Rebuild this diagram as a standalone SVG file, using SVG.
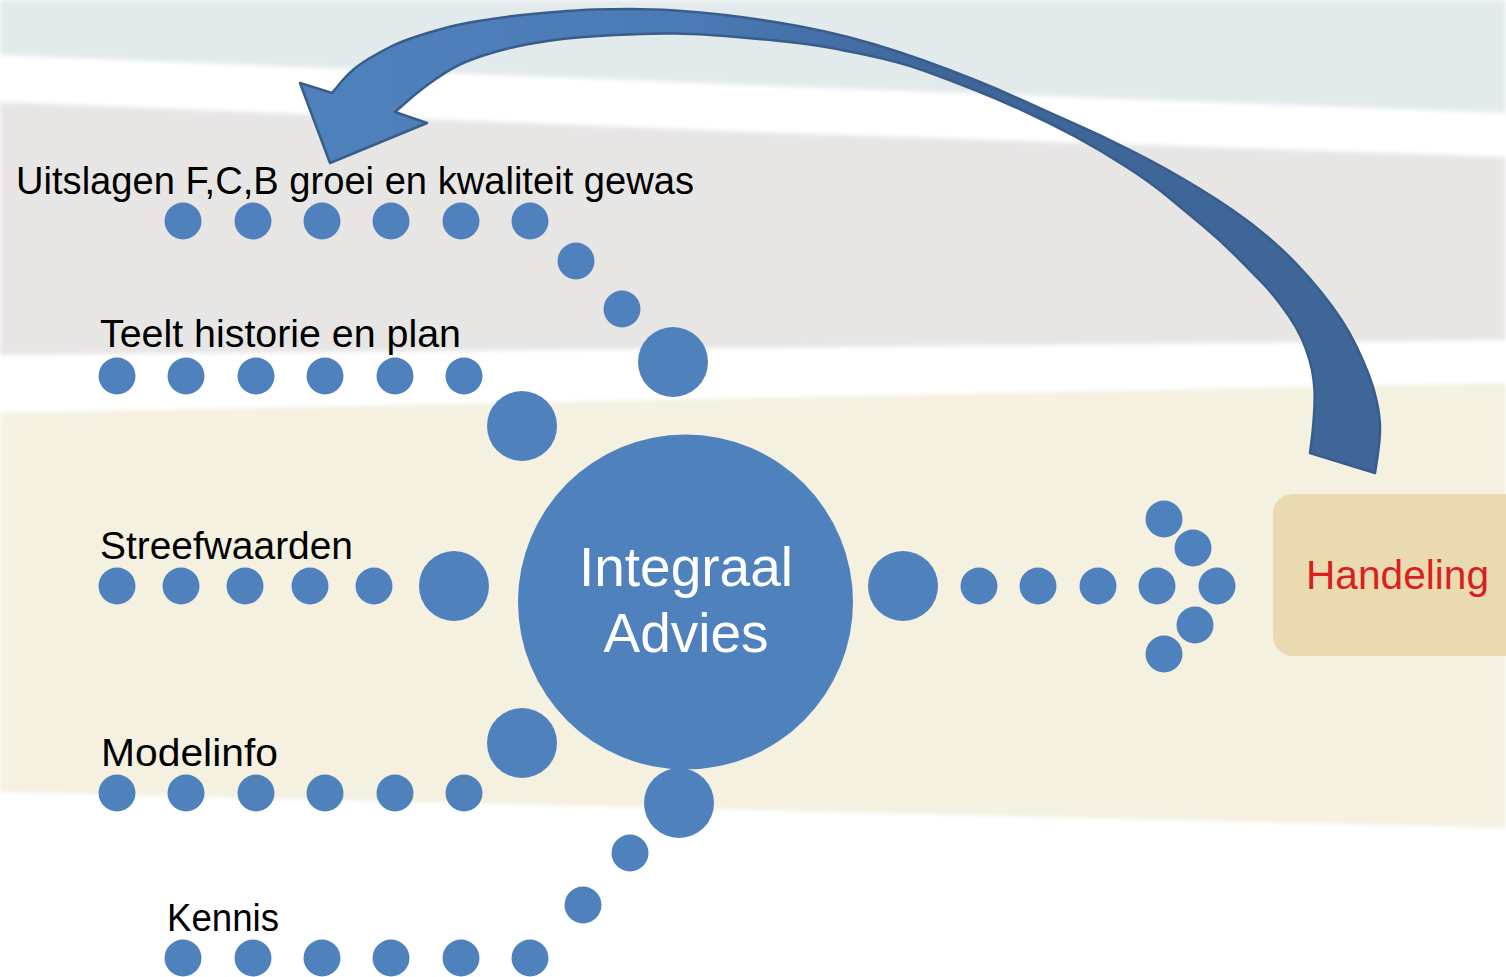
<svg xmlns="http://www.w3.org/2000/svg" width="1506" height="977" viewBox="0 0 1506 977">
  <defs>
    <style>
      .dot { fill: #4f81bd; }
      .lbl { font-family: "Liberation Sans", Arial, sans-serif; font-size: 38px; fill: #000; }
      .ctr { font-family: "Liberation Sans", Arial, sans-serif; font-size: 55px; fill: #fff; text-anchor: middle; }
      .act { font-family: "Liberation Sans", Arial, sans-serif; font-size: 40px; fill: #d91f1f; }
    </style>
    <linearGradient id="arrowFill" gradientUnits="userSpaceOnUse" x1="300" y1="0" x2="1380" y2="0">
      <stop offset="0" stop-color="#4f81bd"/>
      <stop offset="0.35" stop-color="#4b7bb6"/>
      <stop offset="0.6" stop-color="#3f6699"/>
      <stop offset="1" stop-color="#3f6699"/>
    </linearGradient>
    <filter id="soft" x="-5%" y="-5%" width="110%" height="110%">
      <feGaussianBlur stdDeviation="2"/>
    </filter>
  </defs>

  <!-- background bands -->
  <g id="background">
    <rect x="0" y="0" width="1506" height="977" fill="#ffffff"/>
    <polygon points="0,0 1506,0 1506,113 750,85 0,55" fill="#e3eaec" filter="url(#soft)"/>
    <polygon points="0,102 750,132 1506,157 1506,340 750,348 0,355" fill="#e8e5e5" filter="url(#soft)"/>
    <polygon points="0,413 750,398 1506,383 1506,828 750,810 0,792" fill="#f4f1e1" filter="url(#soft)"/>
  </g>

  <!-- connectors: dotted chains and the big curved arrow -->
  <g id="connectors">
    <g id="chain-uitslagen">
      <circle class="dot" cx="183" cy="221" r="18.5"/>
      <circle class="dot" cx="253" cy="221" r="18.5"/>
      <circle class="dot" cx="322" cy="221" r="18.5"/>
      <circle class="dot" cx="391" cy="221" r="18.5"/>
      <circle class="dot" cx="461" cy="221" r="18.5"/>
      <circle class="dot" cx="530" cy="221" r="18.5"/>
      <circle class="dot" cx="576" cy="261" r="18.5"/>
      <circle class="dot" cx="622" cy="309" r="18.5"/>
      <circle class="dot" cx="673" cy="362" r="35"/>
    </g>
    <g id="chain-teelt">
      <circle class="dot" cx="117" cy="376" r="18.5"/>
      <circle class="dot" cx="186" cy="376" r="18.5"/>
      <circle class="dot" cx="256" cy="376" r="18.5"/>
      <circle class="dot" cx="325" cy="376" r="18.5"/>
      <circle class="dot" cx="395" cy="376" r="18.5"/>
      <circle class="dot" cx="464" cy="376" r="18.5"/>
      <circle class="dot" cx="522" cy="426" r="35"/>
    </g>
    <g id="chain-streef">
      <circle class="dot" cx="117" cy="586" r="18.5"/>
      <circle class="dot" cx="181" cy="586" r="18.5"/>
      <circle class="dot" cx="245" cy="586" r="18.5"/>
      <circle class="dot" cx="310" cy="586" r="18.5"/>
      <circle class="dot" cx="374" cy="586" r="18.5"/>
      <circle class="dot" cx="454" cy="586" r="35"/>
    </g>
    <g id="chain-model">
      <circle class="dot" cx="117" cy="793" r="18.5"/>
      <circle class="dot" cx="186" cy="793" r="18.5"/>
      <circle class="dot" cx="256" cy="793" r="18.5"/>
      <circle class="dot" cx="325" cy="793" r="18.5"/>
      <circle class="dot" cx="395" cy="793" r="18.5"/>
      <circle class="dot" cx="464" cy="793" r="18.5"/>
      <circle class="dot" cx="522" cy="743" r="35"/>
    </g>
    <g id="chain-kennis">
      <circle class="dot" cx="183" cy="958" r="18.5"/>
      <circle class="dot" cx="253" cy="958" r="18.5"/>
      <circle class="dot" cx="322" cy="958" r="18.5"/>
      <circle class="dot" cx="391" cy="958" r="18.5"/>
      <circle class="dot" cx="461" cy="958" r="18.5"/>
      <circle class="dot" cx="530" cy="958" r="18.5"/>
      <circle class="dot" cx="583" cy="905" r="18.5"/>
      <circle class="dot" cx="630" cy="853" r="18.5"/>
      <circle class="dot" cx="679" cy="803" r="35"/>
    </g>
    <g id="chain-output">
      <circle class="dot" cx="903" cy="586" r="35"/>
      <circle class="dot" cx="979" cy="586" r="18.5"/>
      <circle class="dot" cx="1038" cy="586" r="18.5"/>
      <circle class="dot" cx="1098" cy="586" r="18.5"/>
      <circle class="dot" cx="1164" cy="519" r="18.5"/>
      <circle class="dot" cx="1193" cy="548" r="18.5"/>
      <circle class="dot" cx="1157" cy="586" r="18.5"/>
      <circle class="dot" cx="1217" cy="586" r="18.5"/>
      <circle class="dot" cx="1195" cy="625" r="18.5"/>
      <circle class="dot" cx="1164" cy="654" r="18.5"/>
    </g>
    <path id="feedback-arrow" fill="url(#arrowFill)" stroke="#385d8a" stroke-width="2.5" stroke-linejoin="round"
      d="M1375,473 L1377.5,456.5 Q1380,440 1380,428.5 Q1380,417 1377,402.5 Q1374,388 1368.5,374 Q1363,360 1356.5,346.5 Q1350,333 1341.5,320 Q1333,307 1321.5,292.5 Q1310,278 1296.5,264 Q1283,250 1266.5,236 Q1250,222 1232.5,210 Q1215,198 1198.5,188 Q1182,178 1166,169 Q1150,160 1125,147.5 Q1100,135 1075,124 Q1050,113 1025,101.5 Q1000,90 975,80 Q950,70 925,61 Q900,52 875,44.5 Q850,37 825,31.5 Q800,26 775,22 Q750,18 725,15 Q700,12 675,10.5 Q650,9 630,9 Q610,9 595,9.5 Q580,10 555,12 Q530,14 513.5,16 Q497,18 478.5,21 Q460,24 445,28 Q430,32 415,37 Q400,42 390,47 Q380,52 370,58 Q360,64 353.5,69.5 Q347,75 339.5,84 L332,93 L300,83 L330,163 L427,123 L395,112 L407.5,101 Q420,90 436.5,78.5 Q453,67 466.5,61.5 Q480,56 496.5,51.5 Q513,47 529,44 Q545,41 562.5,39 Q580,37 615,35 Q650,33 675,33.5 Q700,34 725,36 Q750,38 775,40.5 Q800,43 816.5,45.5 Q833,48 866.5,55 Q900,62 925,71 Q950,80 975,90 Q1000,100 1025,111.5 Q1050,123 1075,136.5 Q1100,150 1125,166 Q1150,182 1167,196 Q1184,210 1202,225 Q1220,240 1235,255 Q1250,270 1261,281.5 Q1272,293 1281,305 Q1290,317 1296,327.5 Q1302,338 1306,349 Q1310,360 1312,370 Q1314,380 1314.5,390 Q1315,400 1314,415 Q1313,430 1311.5,441.5 L1310,453 Z"/>
  </g>

  <!-- nodes -->
  <g id="node-uitslagen">
    <text class="lbl" x="16" y="194" textLength="678" lengthAdjust="spacingAndGlyphs">Uitslagen F,C,B groei en kwaliteit gewas</text>
  </g>
  <g id="node-teelt">
    <text class="lbl" x="100" y="347" textLength="361" lengthAdjust="spacingAndGlyphs">Teelt historie en plan</text>
  </g>
  <g id="node-streef">
    <text class="lbl" x="100" y="559" textLength="253" lengthAdjust="spacingAndGlyphs">Streefwaarden</text>
  </g>
  <g id="node-model">
    <text class="lbl" x="101" y="766" textLength="177" lengthAdjust="spacingAndGlyphs">Modelinfo</text>
  </g>
  <g id="node-kennis">
    <text class="lbl" x="167" y="931" textLength="112" lengthAdjust="spacingAndGlyphs">Kennis</text>
  </g>
  <g id="node-integraal">
    <circle cx="685.5" cy="602" r="167.5" fill="#4f81bd"/>
    <text class="ctr" x="686" y="586">Integraal</text>
    <text class="ctr" x="686" y="652">Advies</text>
  </g>
  <g id="node-handeling">
    <rect x="1273" y="494" width="260" height="162" rx="20" ry="20" fill="#e9dab0"/>
    <text class="act" x="1306" y="589" textLength="183" lengthAdjust="spacingAndGlyphs">Handeling</text>
  </g>
</svg>
